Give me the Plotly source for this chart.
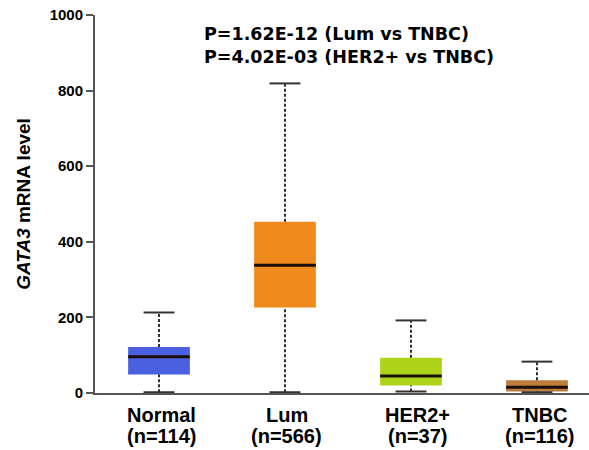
import plotly.graph_objects as go

categories = ["Normal", "Lum", "HER2+", "TNBC"]
counts = [114, 566, 37, 116]
lower_whisker = [2, 2, 4, 2]
q1 = [49, 226, 20, 4]
median = [96, 338, 45, 15]
q3 = [122, 453, 93, 34]
upper_whisker = [213, 819, 192, 83]
colors = ["#4A60E0", "#F08A1C", "#ADD418", "#BC7D3C"]
y_ticks = [0, 200, 400, 600, 800, 1000]
p_texts = ["P=1.62E-12 (Lum vs TNBC)", "P=4.02E-03 (HER2+ vs TNBC)"]

FONT = "Liberation Sans, Arial, sans-serif"
pos = list(range(len(categories)))
box_w = 0.49
cap_w = 0.245
label_shift = [2, 2, 7, 3]  # small horizontal nudges of the category labels (px)

fig = go.Figure()

# boxes
fig.add_trace(go.Bar(
    x=pos, y=[b - a for a, b in zip(q1, q3)], base=q1, width=box_w,
    marker=dict(color=colors, line=dict(width=0)), hoverinfo="skip", showlegend=False,
))

# whiskers (dashed)
wx, wy = [], []
for i, p in enumerate(pos):
    wx += [p, p, None, p, p, None]
    wy += [q3[i], upper_whisker[i], None, lower_whisker[i], q1[i], None]
fig.add_trace(go.Scatter(x=wx, y=wy, mode="lines", cliponaxis=False,
                         line=dict(color="#1A1A1A", width=1.8, dash="3px,2px"),
                         hoverinfo="skip", showlegend=False))

# caps
cx, cy = [], []
for i, p in enumerate(pos):
    for v in (upper_whisker[i], lower_whisker[i]):
        cx += [p - cap_w / 2, p + cap_w / 2, None]
        cy += [v, v, None]
fig.add_trace(go.Scatter(x=cx, y=cy, mode="lines", cliponaxis=False,
                         line=dict(color="#333333", width=2),
                         hoverinfo="skip", showlegend=False))

# medians
mx, my = [], []
for i, p in enumerate(pos):
    mx += [p - box_w / 2, p + box_w / 2, None]
    my += [median[i], median[i], None]
fig.add_trace(go.Scatter(x=mx, y=my, mode="lines", cliponaxis=False,
                         line=dict(color="#1A0E08", width=3),
                         hoverinfo="skip", showlegend=False))

for k, t in enumerate(p_texts):
    fig.add_annotation(text=t, xref="paper", yref="paper", x=0.216, y=0.95 - k * 0.062,
                       xanchor="left", yanchor="middle", showarrow=False,
                       font=dict(family="DejaVu Sans", size=17.5, color="black", weight="bold"))

# category labels (two lines each)
for i, p in enumerate(pos):
    for line, yy in ((categories[i], -0.057), (f"(n={counts[i]})", -0.115)):
        fig.add_annotation(text=line, xref="x", yref="paper", x=p, y=yy, xshift=label_shift[i],
                           xanchor="center", yanchor="middle", showarrow=False,
                           font=dict(family=FONT, size=20, color="black", weight="bold"))

fig.update_layout(
    width=589, height=450,
    margin=dict(l=95, r=0, t=15, b=57),
    paper_bgcolor="white", plot_bgcolor="white",
    font=dict(family=FONT, color="black"),
    xaxis=dict(
        range=[-0.508, 3.413], showticklabels=False, automargin=False,
        showline=True, linecolor="#555555", linewidth=2, ticks="",
        showgrid=False, zeroline=False,
    ),
    yaxis=dict(
        range=[0, 1000], tickvals=y_ticks, automargin=False,
        tickfont=dict(family=FONT, size=15, color="black", weight="bold"),
        showline=True, linecolor="#555555", linewidth=2,
        ticks="outside", ticklen=7, tickwidth=2, tickcolor="#555555",
        showgrid=False, zeroline=False,
        title=dict(text="<i>GATA3</i> mRNA level", standoff=14,
                   font=dict(family=FONT, size=19, color="black", weight="bold")),
    ),
)

fig.write_html("out.html", config={"displayModeBar": False},
               post_script="document.body.style.margin='0px';")
